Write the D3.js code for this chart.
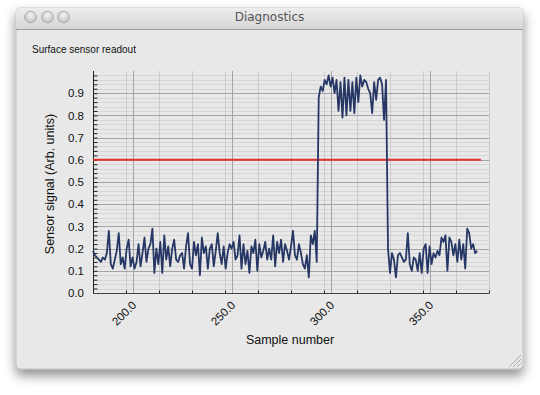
<!DOCTYPE html>
<html><head><meta charset="utf-8">
<script src="https://cdn.jsdelivr.net/npm/d3@7"></script>
<style>body{margin:0;background:#fff}svg{display:block}</style>
</head><body>
<svg id="c" width="540" height="395"></svg>
<script>
const windowTitle = "Diagnostics";
const chartTitle = "Surface sensor readout";
const xLabel = "Sample number";
const yLabel = "Sensor signal (Arb. units)";
const firstSample = 180;
const signal = [
  0.19,0.17,0.16,0.15,0.14,0.16,0.15,0.18,0.28,0.13,
  0.11,0.15,0.19,0.27,0.13,0.16,0.11,0.20,0.24,0.12,
  0.16,0.11,0.14,0.22,0.12,0.18,0.25,0.14,0.20,0.22,
  0.29,0.09,0.20,0.13,0.23,0.09,0.26,0.15,0.21,0.12,
  0.20,0.24,0.15,0.14,0.17,0.18,0.11,0.21,0.27,0.13,
  0.11,0.23,0.17,0.22,0.08,0.25,0.18,0.21,0.11,0.20,
  0.22,0.12,0.19,0.27,0.18,0.13,0.21,0.11,0.18,0.22,
  0.20,0.23,0.15,0.17,0.26,0.11,0.22,0.13,0.19,0.09,
  0.21,0.18,0.24,0.10,0.22,0.16,0.19,0.23,0.15,0.20,
  0.15,0.26,0.12,0.23,0.18,0.24,0.14,0.22,0.19,0.15,
  0.21,0.28,0.17,0.15,0.22,0.18,0.13,0.11,0.17,0.07,
  0.26,0.22,0.28,0.14,
  0.88,0.93,0.91,0.96,0.94,0.98,0.93,0.97,0.90,0.96,
  0.82,0.95,0.79,0.97,0.80,0.96,0.82,0.95,0.81,0.97,
  0.86,0.98,0.93,0.96,0.95,0.92,0.90,0.81,0.95,0.87,
  0.96,0.97,0.94,0.78,0.96,
  0.20,0.09,0.18,0.15,0.07,0.17,0.18,0.16,0.14,0.15,
  0.27,0.13,0.10,0.16,0.15,0.10,0.18,0.09,0.20,0.22,
  0.09,0.21,0.13,0.18,0.16,0.19,0.17,0.25,0.23,0.26,
  0.10,0.25,0.23,0.17,0.22,0.14,0.24,0.15,0.22,0.11,
  0.29,0.27,0.20,0.22,0.18,0.19
];
const thresholdValue = 0.6;
const thresholdSpan = [180, 376];
const xDomain = [180, 380];
const yDomain = [0, 1.0];
const xMajorTicks = [200, 250, 300, 350];
const yMajorTicks = [0.0, 0.1, 0.2, 0.3, 0.4, 0.5, 0.6, 0.7, 0.8, 0.9];

const FONT = "'Liberation Sans', Arial, Helvetica, sans-serif";
const svg = d3.select("#c");
const defs = svg.append("defs");

const f = defs.append("filter").attr("id","sh").attr("x","-10%").attr("y","-10%").attr("width","120%").attr("height","135%");
f.append("feDropShadow").attr("dx",0).attr("dy",6).attr("stdDeviation",6).attr("flood-color","#000").attr("flood-opacity",0.45);
const tg = defs.append("linearGradient").attr("id","tb").attr("x1",0).attr("y1",0).attr("x2",0).attr("y2",1);
tg.append("stop").attr("offset","0%").attr("stop-color","#ededed");
tg.append("stop").attr("offset","100%").attr("stop-color","#d6d6d6");
const bg = defs.append("radialGradient").attr("id","btn").attr("cx","50%").attr("cy","35%").attr("r","60%");
bg.append("stop").attr("offset","0%").attr("stop-color","#f4f4f4");
bg.append("stop").attr("offset","100%").attr("stop-color","#c4c4c4");

const W = {x:16, y:8, w:507, h:361};
svg.append("rect").attr("x",W.x).attr("y",W.y).attr("width",W.w).attr("height",W.h)
  .attr("rx",4).attr("fill","#e8e8e8").attr("stroke","#b4b4b4").attr("stroke-width",0.8).attr("filter","url(#sh)");
svg.append("path").attr("d",`M${W.x},${W.y+21} V${W.y+4} Q${W.x},${W.y} ${W.x+4},${W.y} H${W.x+W.w-4} Q${W.x+W.w},${W.y} ${W.x+W.w},${W.y+4} V${W.y+21} Z`)
  .attr("fill","url(#tb)");
svg.append("line").attr("x1",W.x).attr("x2",W.x+W.w).attr("y1",W.y+21.5).attr("y2",W.y+21.5).attr("stroke","#9c9c9c");
[30.5, 47.5, 63.5].forEach(cx=>{
  svg.append("circle").attr("cx",cx).attr("cy",17).attr("r",5.8).attr("fill","url(#btn)").attr("stroke","#9a9a9a").attr("stroke-width",0.8);
});
svg.append("text").attr("x",W.x+W.w/2).attr("y",21).attr("text-anchor","middle")
  .attr("font-family","'Lucida Grande','DejaVu Sans',"+FONT).attr("font-size",12).attr("fill","#555").text(windowTitle);
[4,8,12].forEach(d=>{
  svg.append("line").attr("x1",W.x+W.w-2-d).attr("y1",W.y+W.h-2).attr("x2",W.x+W.w-2).attr("y2",W.y+W.h-2-d)
    .attr("stroke","#9a9a9a").attr("stroke-width",0.8);
});

svg.append("text").attr("x",32).attr("y",53).attr("font-family",FONT).attr("font-size",10)
  .attr("fill","#111").text(chartTitle);

const P = {l:93, r:489, t:71, b:293};
const x = d3.scaleLinear().domain(xDomain).range([P.l, P.r]);
const y = d3.scaleLinear().domain(yDomain).range([P.b, P.t]);

const xMinor = d3.range(xDomain[0], xDomain[1] + 0.001, 50/3).map(v=>Math.round(v*1000)/1000)
  .filter(v => v > xDomain[0] + 0.5);
const yMinor = d3.range(0, 50).map(i => i*0.02).filter(v => v <= yDomain[1]);

const grid = svg.append("g");
grid.selectAll(".hm").data(yMinor).join("line")
  .attr("x1",P.l).attr("x2",P.r).attr("y1",d=>Math.round(y(d))+0.5).attr("y2",d=>Math.round(y(d))+0.5)
  .attr("stroke","#d6d6d6").attr("stroke-width",1);
grid.selectAll(".vm").data(xMinor).join("line")
  .attr("x1",d=>Math.round(x(d))+0.5).attr("x2",d=>Math.round(x(d))+0.5).attr("y1",P.t).attr("y2",P.b)
  .attr("stroke","#cbcbcb").attr("stroke-width",1);
grid.selectAll(".hM").data(yMajorTicks.filter(d=>d>0)).join("line")
  .attr("x1",P.l).attr("x2",P.r).attr("y1",d=>Math.round(y(d))+0.5).attr("y2",d=>Math.round(y(d))+0.5)
  .attr("stroke","#a4a4a4").attr("stroke-width",1);
grid.selectAll(".vM").data(xMajorTicks).join("line")
  .attr("x1",d=>Math.round(x(d))+0.5).attr("x2",d=>Math.round(x(d))+0.5).attr("y1",P.t).attr("y2",P.b)
  .attr("stroke","#a4a4a4").attr("stroke-width",1);

const yAxis = d3.axisRight(y).tickValues(yMinor).tickSize(4).tickFormat("");
const yg = svg.append("g").attr("transform",`translate(${P.l+0.5},0)`).call(yAxis);
yg.select(".domain").attr("d",`M0,${P.t}V${P.b}`).attr("stroke","#222");
yg.selectAll(".tick line").attr("stroke","#222");
const yLab = svg.append("g").attr("transform",`translate(${P.l-6},0)`)
  .call(d3.axisLeft(y).tickValues(yMajorTicks).tickSize(0).tickFormat(d3.format(".1f")));
yLab.select(".domain").remove();
yLab.selectAll("text").attr("font-family",FONT).attr("font-size",11.5).attr("fill","#111").attr("dx",0);

const xg = svg.append("g").attr("transform",`translate(0,${P.b+0.5})`)
  .call(d3.axisTop(x).tickValues(xMinor).tickSize(3).tickFormat(""));
xg.select(".domain").attr("d",`M${P.l},0H${P.r}`).attr("stroke","#444");
xg.selectAll(".tick line").attr("stroke","#222");
const xLab = svg.append("g").attr("transform",`translate(0,${P.b})`)
  .call(d3.axisBottom(x).tickValues(xMajorTicks).tickSize(0).tickFormat(d3.format(".1f")));
xLab.select(".domain").remove();
xLab.selectAll("text").attr("font-family",FONT).attr("font-size",11.5).attr("fill","#111")
  .attr("text-anchor","end").attr("y",0).attr("dy",0)
  .attr("transform","translate(4,13) rotate(-45)");

svg.append("text").attr("x",290).attr("y",344).attr("text-anchor","middle")
  .attr("font-family",FONT).attr("font-size",12.5).attr("fill","#111").text(xLabel);
svg.append("text").attr("transform",`translate(54,${(P.t+P.b)/2+2}) rotate(-90)`).attr("text-anchor","middle")
  .attr("font-family",FONT).attr("font-size",12.5).attr("fill","#111").text(yLabel);

svg.append("line").attr("x1",x(thresholdSpan[0])).attr("x2",x(thresholdSpan[1]))
  .attr("y1",y(thresholdValue)).attr("y2",y(thresholdValue))
  .attr("stroke","#e0342e").attr("stroke-width",2);

const line = d3.line().x((d,i)=>x(firstSample+i)).y(d=>y(d));
svg.append("path").datum(signal).attr("d",line).attr("fill","none")
  .attr("stroke","#263765").attr("stroke-width",1.8).attr("stroke-linejoin","round");
</script>
</body></html>
